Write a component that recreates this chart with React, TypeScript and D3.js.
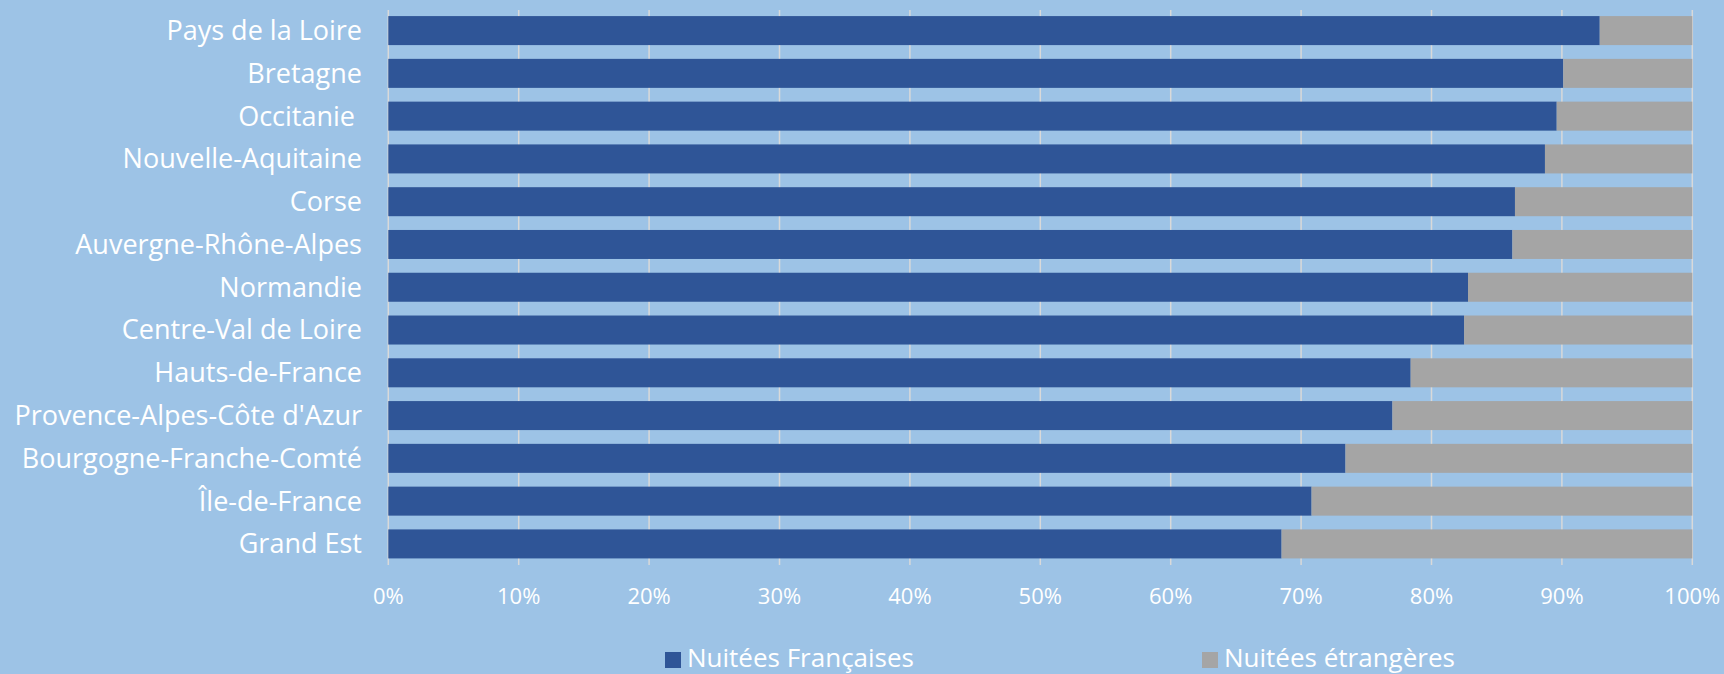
import React, { useEffect } from "react";
import * as d3 from "d3";

const regions = [
  "Pays de la Loire",
  "Bretagne",
  "Occitanie ",
  "Nouvelle-Aquitaine",
  "Corse",
  "Auvergne-Rhône-Alpes",
  "Normandie",
  "Centre-Val de Loire",
  "Hauts-de-France",
  "Provence-Alpes-Côte d'Azur",
  "Bourgogne-Franche-Comté",
  "Île-de-France",
  "Grand Est",
];
const nuiteesFrancaises = [0.929, 0.901, 0.896, 0.887, 0.864, 0.862, 0.828, 0.825, 0.784, 0.77, 0.734, 0.708, 0.685];
const nuiteesEtrangeres = [0.071, 0.099, 0.104, 0.113, 0.136, 0.138, 0.172, 0.175, 0.216, 0.23, 0.266, 0.292, 0.315];
const seriesNames = ["Nuitées Françaises", "Nuitées étrangères"];
const tickValues = [0, 0.1, 0.2, 0.3, 0.4, 0.5, 0.6, 0.7, 0.8, 0.9, 1];

const W = 1724;
const H = 674;
const FONT = "'Open Sans', 'Noto Sans', sans-serif";
const BG = "#9DC3E6";
const C1 = "#2F5597";
const C2 = "#A5A5A5";
const GRID = "#D9D9D9";

export default function App() {
  useEffect(() => {
    document.body.style.margin = "0";
  }, []);

  const x = d3.scaleLinear().domain([0, 1]).range([388.3, 1692.3]);
  const y = d3.scaleBand<string>().domain(regions).range([9.2, 565.3]).paddingInner(0.322).paddingOuter(0.161);
  const fmt = d3.format(".0%");

  return (
    <svg width={W} height={H} style={{ display: "block", background: BG }}>
      <rect x={0} y={0} width={W} height={H} fill={BG} />
      {tickValues.map((t) => (
        <line key={"g" + t} x1={x(t)} x2={x(t)} y1={10} y2={565} stroke={GRID} strokeWidth={1.5} />
      ))}
      {regions.map((r, i) => (
        <g key={r}>
          <rect x={x(0)} y={y(r)} width={x(nuiteesFrancaises[i]) - x(0)} height={y.bandwidth()} fill={C1} />
          <rect
            x={x(nuiteesFrancaises[i])}
            y={y(r)}
            width={x(nuiteesFrancaises[i] + nuiteesEtrangeres[i]) - x(nuiteesFrancaises[i])}
            height={y.bandwidth()}
            fill={C2}
          />
          <text
            x={362}
            y={(y(r) as number) + y.bandwidth() / 2}
            dy="0.35em"
            textAnchor="end"
            fill="#FFFFFF"
            fontFamily={FONT}
            fontSize={27}
            style={{ whiteSpace: "pre" }}
          >
            {r}
          </text>
        </g>
      ))}
      {tickValues.map((t) => (
        <text key={"t" + t} x={x(t)} y={604} textAnchor="middle" fill="#FFFFFF" fontFamily={FONT} fontSize={22}>
          {fmt(t)}
        </text>
      ))}
      {seriesNames.map((s, i) => {
        const lx = [665, 1202][i];
        return (
          <g key={s}>
            <rect x={lx} y={652} width={16} height={16} fill={i === 0 ? C1 : C2} />
            <text x={lx + 22} y={667} fill="#FFFFFF" fontFamily={FONT} fontSize={26}>
              {s}
            </text>
          </g>
        );
      })}
    </svg>
  );
}
